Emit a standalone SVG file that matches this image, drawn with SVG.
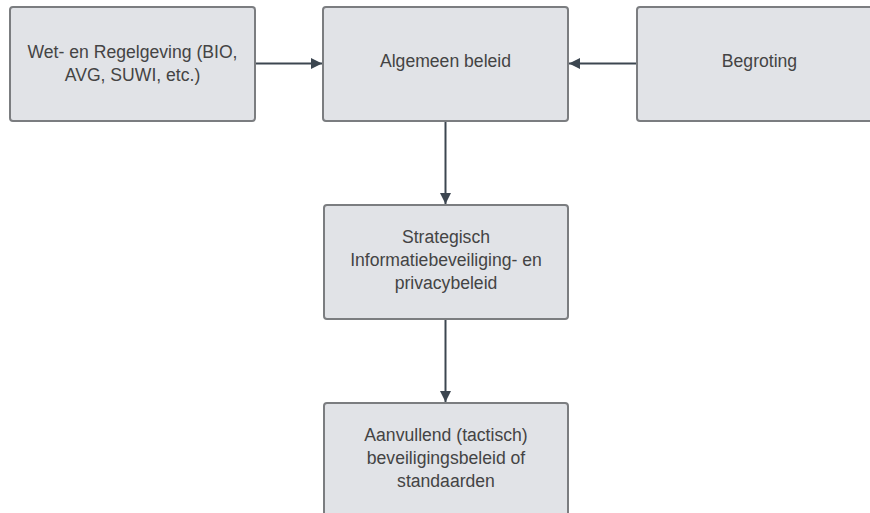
<svg xmlns="http://www.w3.org/2000/svg" width="870" height="513" viewBox="0 0 870 513">
<defs>
<style>
.box{fill:#e1e3e7;stroke:#7b7d80;stroke-width:2}
.t{font-family:"Liberation Sans",Arial,sans-serif;font-size:17.6px;fill:#444444;text-anchor:middle}
.c{stroke:#3c4650;stroke-width:2;fill:none}
</style>
<marker id="ah" viewBox="0 0 10 10" refX="10" refY="5" markerWidth="5.5" markerHeight="5.5" orient="auto" markerUnits="strokeWidth">
<path d="M0,0 L10,5 L0,10 z" fill="#3c4650"/>
</marker>
</defs>
<rect width="870" height="513" fill="#ffffff"/>
<g id="connectors">
<line class="c" x1="255" y1="63.5" x2="322" y2="63.5" marker-end="url(#ah)"/>
<line class="c" x1="637" y1="63.5" x2="569" y2="63.5" marker-end="url(#ah)"/>
<line class="c" x1="445.5" y1="121" x2="445.5" y2="204" marker-end="url(#ah)"/>
<line class="c" x1="445.5" y1="319" x2="445.5" y2="402" marker-end="url(#ah)"/>
</g>
<g id="wet">
<rect class="box" x="10" y="7" width="245" height="114" rx="3"/>
<text class="t" x="132.5" y="58">Wet- en Regelgeving (BIO,</text>
<text class="t" x="132.5" y="81">AVG, SUWI, etc.)</text>
</g>
<g id="algemeen">
<rect class="box" x="323" y="7" width="245" height="114" rx="3"/>
<text class="t" x="445.5" y="67">Algemeen beleid</text>
</g>
<g id="begroting">
<rect class="box" x="637" y="7" width="245" height="114" rx="3"/>
<text class="t" x="759.5" y="67">Begroting</text>
</g>
<g id="strategisch">
<rect class="box" x="324" y="205" width="244" height="114" rx="3"/>
<text class="t" x="446" y="243">Strategisch</text>
<text class="t" x="446" y="266">Informatiebeveiliging- en</text>
<text class="t" x="446" y="289">privacybeleid</text>
</g>
<g id="aanvullend">
<rect class="box" x="324" y="403" width="244" height="120" rx="3"/>
<text class="t" x="446" y="441">Aanvullend (tactisch)</text>
<text class="t" x="446" y="464">beveiligingsbeleid of</text>
<text class="t" x="446" y="487">standaarden</text>
</g>
</svg>
